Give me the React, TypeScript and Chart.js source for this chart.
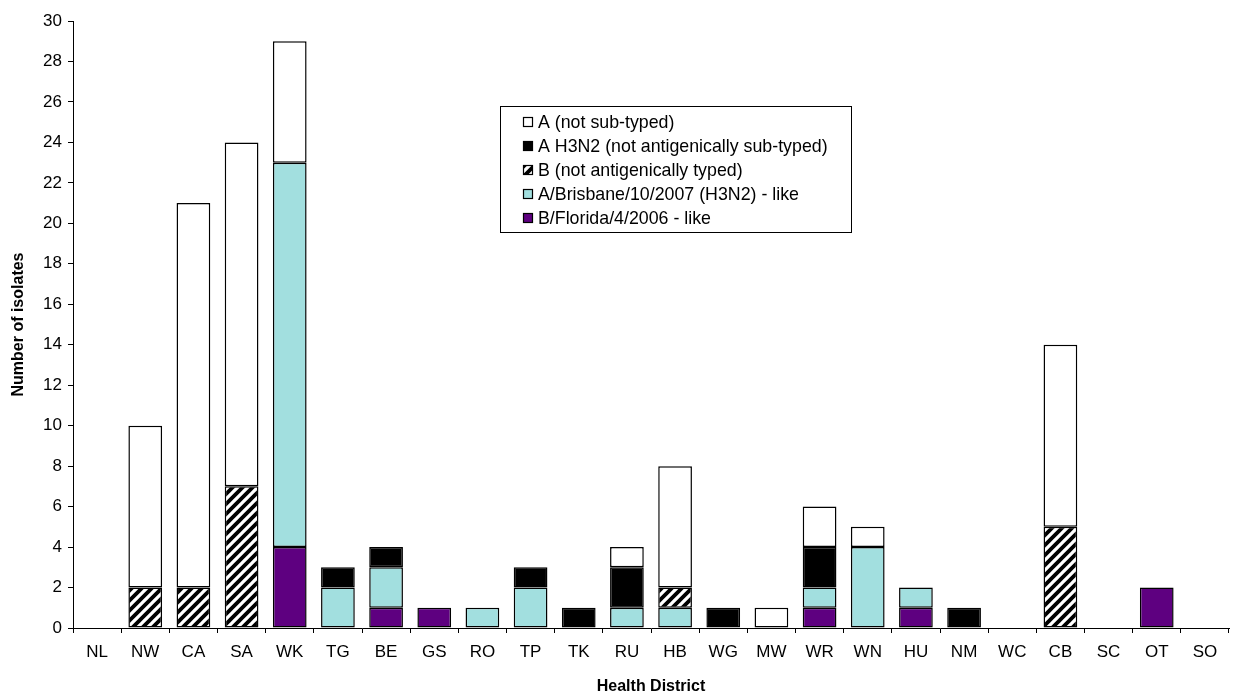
import React, { useEffect, useRef } from 'react';
import { Chart, registerables } from 'chart.js';

Chart.register(...registerables);

const categories = ['NL', 'NW', 'CA', 'SA', 'WK', 'TG', 'BE', 'GS', 'RO', 'TP', 'TK', 'RU', 'HB', 'WG', 'MW', 'WR', 'WN', 'HU', 'NM', 'WC', 'CB', 'SC', 'OT', 'SO'];
const bFlorida = [0, 0, 0, 0, 4, 0, 1, 1, 0, 0, 0, 0, 0, 0, 0, 1, 0, 1, 0, 0, 0, 0, 2, 0];
const aBrisbane = [0, 0, 0, 0, 19, 2, 2, 0, 1, 2, 0, 1, 1, 0, 0, 1, 4, 1, 0, 0, 0, 0, 0, 0];
const bNotTyped = [0, 2, 2, 7, 0, 0, 0, 0, 0, 0, 0, 0, 1, 0, 0, 0, 0, 0, 0, 0, 5, 0, 0, 0];
const aH3N2 = [0, 0, 0, 0, 0, 1, 1, 0, 0, 1, 1, 2, 0, 1, 0, 2, 0, 0, 1, 0, 0, 0, 0, 0];
const aNotSubtyped = [0, 8, 19, 17, 6, 0, 0, 0, 0, 0, 0, 1, 6, 0, 1, 2, 1, 0, 0, 0, 9, 0, 0, 0];

const labelFlorida = 'B/Florida/4/2006 - like';
const labelBrisbane = 'A/Brisbane/10/2007 (H3N2) - like';
const labelBNot = 'B (not antigenically typed)';
const labelH3N2 = 'A H3N2 (not antigenically sub-typed)';
const labelANot = 'A (not sub-typed)';

const FONT = '"Liberation Sans", Arial, sans-serif';

function makeHatch(): CanvasPattern | string {
  const c = document.createElement('canvas');
  const s = 10;
  c.width = s;
  c.height = s;
  const g = c.getContext('2d');
  if (!g) return '#888';
  g.fillStyle = '#ffffff';
  g.fillRect(0, 0, s, s);
  g.strokeStyle = '#000000';
  g.lineWidth = 3.8;
  g.beginPath();
  g.moveTo(-2, s + 2);
  g.lineTo(s + 2, -2);
  g.moveTo(-2, 2);
  g.lineTo(2, -2);
  g.moveTo(s - 2, s + 2);
  g.lineTo(s + 2, s - 2);
  g.stroke();
  return g.createPattern(c, 'repeat') || '#888';
}

const nz = (a: number[]) => a.map((v) => (v === 0 ? null : v));

export default function App() {
  const ref = useRef<HTMLCanvasElement>(null);

  useEffect(() => {
    document.body.style.margin = '0';
    const canvas = ref.current;
    if (!canvas) return;
    const hatch = makeHatch();

    const legendItems = [
      { label: labelANot, fill: '#ffffff' as any },
      { label: labelH3N2, fill: '#000000' as any },
      { label: labelBNot, fill: hatch as any },
      { label: labelBrisbane, fill: '#a2dfdf' as any },
      { label: labelFlorida, fill: '#5e0080' as any },
    ];

    const legendPlugin = {
      id: 'boxLegend',
      afterDraw(chart: any) {
        const ctx = chart.ctx as CanvasRenderingContext2D;
        const x0 = 500, y0 = 106, w = 351, h = 126;
        ctx.save();
        ctx.fillStyle = '#fff';
        ctx.fillRect(x0, y0, w, h);
        ctx.strokeStyle = '#000';
        ctx.lineWidth = 1;
        ctx.strokeRect(x0 + 0.5, y0 + 0.5, w, h);
        ctx.font = `17.8px ${FONT}`;
        ctx.textBaseline = 'middle';
        legendItems.forEach((it, i) => {
          const cy = y0 + 16 + i * 24;
          ctx.fillStyle = it.fill;
          ctx.fillRect(523, cy - 5, 10, 10);
          ctx.strokeStyle = '#000';
          ctx.lineWidth = 1.2;
          ctx.strokeRect(523.5, cy - 4.5, 9, 9);
          ctx.fillStyle = '#000';
          ctx.fillText(it.label, 538, cy + 1);
        });
        ctx.restore();
      },
    };

    const common = { borderColor: '#000000', borderWidth: 1.5, borderSkipped: false as const, barPercentage: 0.7, categoryPercentage: 1.0 };

    const chart = new Chart(canvas, {
      type: 'bar',
      data: {
        labels: categories,
        datasets: [
          { label: labelFlorida, data: nz(bFlorida), backgroundColor: '#5e0080', ...common },
          { label: labelBrisbane, data: nz(aBrisbane), backgroundColor: '#a2dfdf', ...common },
          { label: labelBNot, data: nz(bNotTyped), backgroundColor: hatch as any, ...common },
          { label: labelH3N2, data: nz(aH3N2), backgroundColor: '#000000', ...common },
          { label: labelANot, data: nz(aNotSubtyped), backgroundColor: '#ffffff', ...common },
        ],
      },
      options: {
        responsive: false,
        animation: false,
        layout: { padding: { top: 21, right: 14, left: 0, bottom: 0 } },
        plugins: { legend: { display: false }, tooltip: { enabled: false } },
        scales: {
          x: {
            stacked: true,
            grid: { display: true, drawOnChartArea: false, offset: true, tickLength: 5, color: '#000' },
            border: { color: '#000' },
            ticks: { color: '#000', font: { family: FONT, size: 17 }, padding: 9, maxRotation: 0, autoSkip: false },
            title: { display: true, text: 'Health District', color: '#000', font: { family: FONT, size: 16, weight: 'bold' }, padding: { top: 4, bottom: -3 } },
            afterFit(scale: any) { scale.height = 65; },
          },
          y: {
            stacked: true,
            min: 0,
            max: 30,
            ticks: { stepSize: 2, color: '#000', font: { family: FONT, size: 17 }, padding: 6 },
            grid: { display: true, drawOnChartArea: false, tickLength: 5, color: '#000' },
            border: { color: '#000' },
            title: { display: true, text: 'Number of isolates', color: '#000', font: { family: FONT, size: 16, weight: 'bold' }, padding: { top: 9, bottom: 4 } },
            afterFit(scale: any) { scale.width = 73; },
          },
        },
      },
      plugins: [legendPlugin],
    });
    return () => chart.destroy();
  }, []);

  return <canvas ref={ref} width={1243} height={693} style={{ display: 'block' }} />;
}
